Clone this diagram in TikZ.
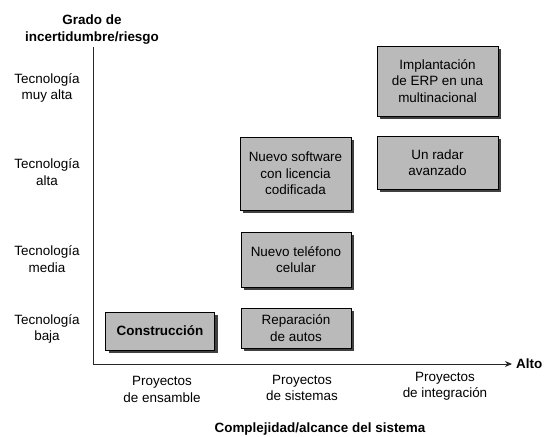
\documentclass[tikz,border=0pt]{standalone}
\usepackage{fontspec}
\setmainfont{Liberation Sans}
\usetikzlibrary{shadows,arrows.meta}
\tikzset{
  px/.style={x=1bp,y=-1bp},
  lbl/.style={align=center,font=\fontsize{13.5}{16.5}\selectfont,inner sep=0pt},
  blbl/.style={lbl,font=\fontsize{13.5}{16.5}\selectfont\bfseries},
  projbox/.style={draw=black,line width=0.9bp,fill=black!27,align=center,
    font=\fontsize{13.5}{16.5}\selectfont,inner sep=0pt,
    drop shadow={shadow xshift=3bp,shadow yshift=-3bp,fill=black!75,opacity=1}},
  axis/.style={line width=0.9bp,draw=black!85}
}
\begin{document}
\begin{tikzpicture}[px]
\useasboundingbox (0,0) rectangle (547,437);
% axes
\coordinate (origin) at (93,364);
\coordinate (ytop) at (93,47);
\coordinate (xend) at (512,364);
\draw[axis] (ytop) -- (origin);
\draw[axis,-{Stealth[length=7bp,width=6bp]}] (origin) -- (xend);
\node[blbl,anchor=west] (alto) at (516,364) {Alto};
\node[blbl] (ylab) at (92,29.5) {Grado de\\incertidumbre/riesgo};
\node[blbl] (xlab) at (320,429) {Complejidad/alcance del sistema};
% y labels
\node[lbl] (muyalta) at (47,88) {Tecnología\\muy alta};
\node[lbl] (alta) at (47,172) {Tecnología\\alta};
\node[lbl] (media) at (47,259) {Tecnología\\media};
\node[lbl] (baja) at (47,329) {Tecnología\\baja};
% x labels
\node[lbl] (ens) at (162,389.5) {Proyectos\\de ensamble};
\node[lbl] (sis) at (302,388) {Proyectos\\de sistemas};
\node[lbl] (int) at (445,386) {Proyectos\\de integración};
% boxes
\node[projbox,minimum width=121bp,minimum height=70bp] (erp) at (437.5,81) {Implantación\\de ERP en una\\multinacional};
\node[projbox,minimum width=121bp,minimum height=53bp] (radar) at (437.5,162.5) {Un radar\\avanzado};
\node[projbox,minimum width=111bp,minimum height=73bp] (soft) at (295.5,173.5) {Nuevo software\\con licencia\\codificada};
\node[projbox,minimum width=110bp,minimum height=55bp] (tel) at (296,259.5) {Nuevo teléfono\\celular};
\node[projbox,minimum width=110bp,minimum height=40bp] (rep) at (296,328) {Reparación\\de autos};
\node[projbox,minimum width=109bp,minimum height=38bp,font=\fontsize{13.5}{16.5}\selectfont\bfseries] (con) at (160,331) {Construcción};
\end{tikzpicture}
\end{document}
